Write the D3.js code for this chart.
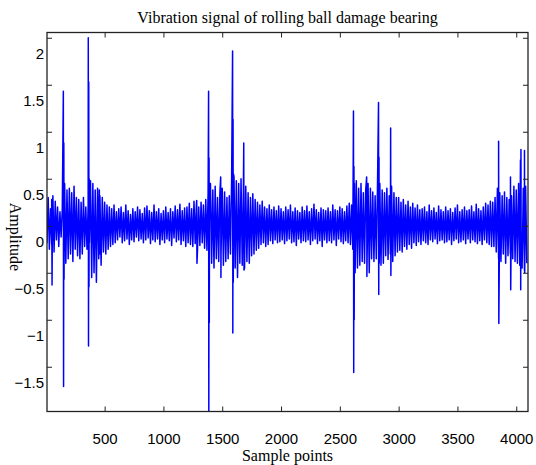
<!DOCTYPE html>
<html><head><meta charset="utf-8">
<script src="https://cdn.jsdelivr.net/npm/d3@7"></script>
<style>
html,body{margin:0;padding:0;background:#fff;}
svg{display:block;}
</style></head>
<body>
<svg id="chart" width="536" height="465"></svg>
<script>
// ---------- data ----------
const titleText = "Vibration signal of rolling ball damage bearing";
const xLabel = "Sample points";
const yLabel = "Amplitude";
const xTicks = [500, 1000, 1500, 2000, 2500, 3000, 3500, 4000];
const yTicks = [-1.5, -1, -0.5, 0, 0.5, 1, 1.5, 2];
const sampleStep = 10;
// background vibration, one reading every 10 samples (alternating crests / troughs)
const noise = [
 0.22,-0.18,0.30,-0.25,0.18,-0.20,0.32,-0.28,0.26,-0.15,0.20,-0.22,0.15,-0.12,0.18,-0.16,0.45,-0.40,0.38,-0.35,
 0.40,-0.30,0.35,-0.38,0.42,-0.25,0.30,-0.32,0.28,-0.35,0.25,-0.30,0.30,-0.22,0.20,-0.25,0.22,-0.18,0.48,-0.55,
 0.45,-0.50,0.38,-0.60,0.40,-0.35,0.32,-0.42,0.30,-0.28,0.25,-0.30,0.22,-0.25,0.20,-0.22,0.18,-0.20,0.22,-0.18,
 0.15,-0.15,0.18,-0.12,0.20,-0.18,0.14,-0.16,0.22,-0.14,0.16,-0.20,0.12,-0.15,0.18,-0.17,0.15,-0.12,0.20,-0.16,
 0.17,-0.14,0.13,-0.18,0.19,-0.15,0.21,-0.13,0.16,-0.19,0.14,-0.15,0.22,-0.17,0.15,-0.14,0.18,-0.20,0.13,-0.15,
 0.16,-0.18,0.20,-0.14,0.14,-0.16,0.18,-0.21,0.15,-0.13,0.21,-0.17,0.17,-0.15,0.23,-0.20,0.16,-0.16,0.19,-0.22,
 0.20,-0.18,0.24,-0.20,0.18,-0.22,0.26,-0.19,0.22,-0.25,0.20,-0.21,0.25,-0.18,0.22,-0.24,0.28,-0.26,0.35,-0.40,
 0.45,-0.40,0.38,-0.45,0.42,-0.35,0.30,-0.38,0.35,-0.30,0.40,-0.42,0.36,-0.38,0.30,-0.35,0.32,-0.30,0.50,-0.48,
 0.52,-0.45,0.48,-0.55,0.45,-0.40,0.50,-0.42,0.38,-0.45,0.42,-0.38,0.35,-0.40,0.30,-0.32,0.34,-0.30,0.28,-0.26,
 0.25,-0.24,0.22,-0.20,0.26,-0.18,0.20,-0.22,0.18,-0.20,0.22,-0.16,0.17,-0.19,0.20,-0.15,0.16,-0.18,0.21,-0.17,
 0.18,-0.15,0.15,-0.19,0.20,-0.16,0.17,-0.14,0.22,-0.18,0.15,-0.17,0.19,-0.21,0.16,-0.14,0.14,-0.18,0.20,-0.16,
 0.16,-0.17,0.21,-0.15,0.15,-0.20,0.18,-0.16,0.23,-0.14,0.17,-0.19,0.14,-0.16,0.19,-0.22,0.17,-0.15,0.16,-0.18,
 0.19,-0.16,0.15,-0.18,0.22,-0.15,0.17,-0.21,0.16,-0.14,0.20,-0.17,0.18,-0.19,0.15,-0.16,0.21,-0.18,0.24,-0.20,
 0.22,-0.25,0.55,-0.50,0.48,-0.45,0.40,-0.42,0.45,-0.38,0.35,-0.40,0.38,-0.32,0.45,-0.50,0.40,-0.35,0.36,-0.38,
 0.32,-0.35,0.40,-0.38,0.45,-0.42,0.38,-0.40,0.35,-0.32,0.40,-0.36,0.32,-0.30,0.42,-0.38,0.35,-0.32,0.30,-0.28,
 0.30,-0.26,0.25,-0.28,0.28,-0.22,0.22,-0.25,0.26,-0.20,0.20,-0.24,0.24,-0.18,0.19,-0.21,0.22,-0.17,0.17,-0.20,
 0.18,-0.16,0.20,-0.18,0.15,-0.20,0.22,-0.15,0.16,-0.17,0.19,-0.14,0.14,-0.19,0.21,-0.16,0.17,-0.15,0.15,-0.18,
 0.20,-0.17,0.16,-0.15,0.18,-0.20,0.14,-0.16,0.19,-0.14,0.22,-0.18,0.15,-0.17,0.17,-0.15,0.20,-0.19,0.16,-0.14,
 0.17,-0.18,0.21,-0.15,0.15,-0.17,0.23,-0.19,0.18,-0.16,0.16,-0.20,0.20,-0.15,0.24,-0.18,0.22,-0.20,0.26,-0.22,
 0.25,-0.22,0.30,-0.28,0.40,-0.35,0.35,-0.38,0.32,-0.30,0.36,-0.40,0.30,-0.32,0.28,-0.30,0.32,-0.35,0.42,-0.38,
 0.38,-0.40,0.45,-0.42,0.50,-0.45,0.40,-0.48,0.42,-0.40
];
// impact impulses: sample index and amplitude
const impulseSamples = [
 50,53,56,
 149,151,153,155,157,
 361,363,365,367,369,
 455,457,
 1283,1285,
 1384,1386,1388,1390,1392,
 1487,1489,
 1588,1590,1592,1594,1596,
 1683,1685,
 2616,2618,2620,2622,2624,
 2728,2730,
 2829,2831,2833,2835,
 2932,2934,
 3850,3852,
 3951,3953,
 4036,4038,4040,4042,
 4070,4072
];
const impulseValues = [
 0.28,-0.63,0.10,
 1.43,-1.71,0.88,-0.57,0.45,
 2.00,-1.28,1.53,-0.65,0.50,
 0.38,-0.30,
 0.27,-0.40,
 1.43,-2.20,0.72,-1.03,0.45,
 0.52,-0.55,
 1.86,-1.14,1.13,-0.60,0.55,
 0.88,-0.47,
 1.22,-1.56,0.63,-1.00,0.45,
 0.52,-0.54,
 1.31,-0.73,0.73,-0.40,
 1.04,-0.53,
 0.90,-1.04,
 0.52,-0.68,
 0.70,-0.68,0.81,-0.40,
 0.80,-0.50
];

// ---------- layout ----------
const svg = d3.select("#chart");
const L = 47, R = 528, T = 32.5, B = 411.5;
const x = d3.scaleLinear().domain([10, 4100]).range([L, R]);
const y = d3.scaleLinear().domain([-1.976, 2.056]).range([B, T]);

// ---------- series ----------
const pts = noise.map((v, i) => ({s: i * sampleStep, v}));
impulseSamples.forEach((s, i) => pts.push({s, v: impulseValues[i]}));
pts.sort((a, b) => a.s - b.s);

svg.append("defs").append("clipPath").attr("id", "clip")
  .append("rect").attr("x", L).attr("y", T).attr("width", R - L).attr("height", B - T);

svg.append("path")
  .datum(pts)
  .attr("clip-path", "url(#clip)")
  .attr("fill", "none")
  .attr("stroke", "#0000ff")
  .attr("stroke-width", 1.5)
  .attr("stroke-linejoin", "round")
  .attr("d", d3.line().x(d => x(d.s)).y(d => y(d.v)));

// ---------- axes ----------
const tickFont = "Liberation Sans, Arial, sans-serif";
const serif = "Liberation Serif, Times New Roman, serif";

const gB = svg.append("g").attr("transform", `translate(0,${B})`)
  .call(d3.axisBottom(x).tickValues(xTicks).tickSizeInner(-5).tickSizeOuter(0).tickPadding(0)
    .tickFormat(d3.format("d")));
gB.selectAll("text").attr("y", 32.5).attr("dy", null)
  .style("font-family", tickFont).style("font-size", "15px").attr("fill", "#000");

const gT = svg.append("g").attr("transform", `translate(0,${T})`)
  .call(d3.axisTop(x).tickValues(xTicks).tickSizeInner(-5).tickSizeOuter(0).tickFormat(""));

const gL = svg.append("g").attr("transform", `translate(${L},0)`)
  .call(d3.axisLeft(y).tickValues(yTicks).tickSizeInner(-5).tickSizeOuter(0).tickPadding(3)
    .tickFormat(d3.format("")));
gL.selectAll("text").attr("y", 15).attr("dy", "0.35em")
  .style("font-family", tickFont).style("font-size", "15px").attr("fill", "#000");

const gR = svg.append("g").attr("transform", `translate(${R},0)`)
  .call(d3.axisRight(y).tickValues(yTicks).tickSizeInner(-5).tickSizeOuter(0).tickFormat(""));

[gB, gT, gL, gR].forEach(g => {
  g.select(".domain").remove();
  g.selectAll("line").attr("stroke", "#222").attr("stroke-width", 1);
});

// box
svg.append("rect")
  .attr("x", L).attr("y", T).attr("width", R - L).attr("height", B - T)
  .attr("fill", "none").attr("stroke", "#222").attr("stroke-width", 1.3);

// ---------- titles ----------
svg.append("text").attr("x", (L + R) / 2).attr("y", 23)
  .attr("text-anchor", "middle").style("font-family", serif).style("font-size", "16px")
  .text(titleText);

svg.append("text").attr("x", (L + R) / 2).attr("y", 461)
  .attr("text-anchor", "middle").style("font-family", serif).style("font-size", "16px")
  .text(xLabel);

svg.append("text").attr("transform", "translate(10,237) rotate(90)")
  .attr("text-anchor", "middle").style("font-family", serif).style("font-size", "16px")
  .text(yLabel);
</script>
</body></html>
